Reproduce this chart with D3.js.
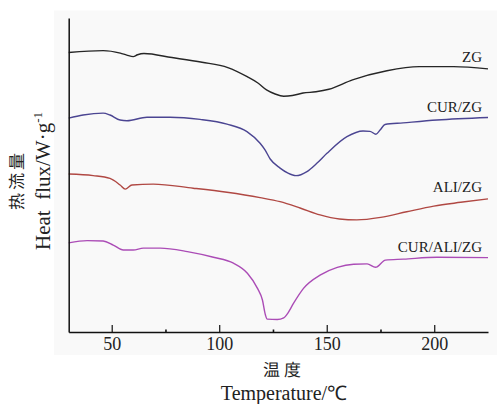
<!DOCTYPE html>
<html>
<head>
<meta charset="utf-8">
<script src="https://cdn.jsdelivr.net/npm/d3@7"></script>
<style>
  html, body { margin: 0; padding: 0; background: #ffffff; }
  svg { display: block; }
  text { font-family: "Liberation Serif", "Times New Roman", serif; fill: #222; }
  .cjk { font-family: "Noto Sans CJK JP", "Noto Sans CJK SC", sans-serif; text-rendering: geometricPrecision; }
</style>
</head>
<body>
<svg id="chart" width="497" height="404"></svg>
<script>
// DSC thermograms (heat flux, arbitrary offset units) vs temperature in °C
const seriesNames = ["ZG", "CUR/ZG", "ALI/ZG", "CUR/ALI/ZG"];
const seriesColors = ["#262626", "#4b4592", "#b04843", "#ab4cb6"];

const tempZG = [30, 46, 54, 57, 60, 62, 65, 78, 92, 104, 113, 118, 122, 126, 130, 134, 139, 145, 151, 162, 178, 193, 209, 225];
const fluxZG = [89.0, 89.6, 88.8, 88.2, 87.7, 88.3, 88.7, 87.4, 85.9, 84.2, 81.3, 79.3, 77.1, 75.8, 75.1, 75.3, 76.1, 76.5, 77.3, 80.3, 83.2, 84.5, 84.5, 83.8];

const tempCURZG = [30, 36.7, 46, 49.2, 53.9, 57.1, 66.4, 77.1, 91.1, 103.6, 112.9, 119, 121.3, 123.7, 128.3, 132, 135.7, 140.8, 145.5, 150.1, 159.4, 166.9, 170.1, 172.9, 174.8, 177.1, 185.5, 201.3, 225];
const fluxCURZG = [68.1, 69.1, 69.7, 69.1, 67.5, 67.3, 68.4, 68.4, 67.7, 66.2, 63.8, 60.1, 58.0, 55.1, 52.2, 50.6, 49.8, 51.1, 53.8, 56.9, 62.2, 64.0, 63.9, 63.0, 64.3, 66.1, 66.6, 67.5, 68.3];

const tempALIZG = [30, 41.4, 49.2, 53.9, 56.3, 59.4, 69.3, 87.9, 103.6, 119, 128.3, 137.6, 146.9, 155.9, 164, 175.1, 187.2, 199.8, 212.3, 225];
const fluxALIZG = [50.3, 49.8, 48.9, 46.8, 45.5, 46.8, 47.1, 45.8, 44.5, 42.8, 41.5, 39.5, 37.3, 36.0, 35.7, 36.5, 38.3, 40.1, 41.3, 42.4];

const tempCURALIZG = [30, 38.6, 46, 50.7, 55.4, 60, 64.7, 72.6, 85.2, 97.3, 106.6, 113.1, 117.8, 120.1, 121.5, 122.3, 127, 130, 131.6, 134.6, 139.2, 147.1, 154.9, 162.5, 168.8, 172.7, 177.3, 185.7, 201.3, 225];
const fluxCURALIZG = [28.4, 29.1, 29.0, 27.7, 26.1, 26.1, 26.7, 26.7, 25.6, 23.8, 21.9, 18.7, 13.9, 10.2, 5.4, 4.1, 4.0, 4.5, 5.7, 9.2, 13.9, 18.2, 20.6, 21.6, 21.7, 20.6, 22.9, 23.2, 23.8, 23.7];

const xTicks = [50, 100, 150, 200];
const xMinorTicks = [75, 125, 175];
const labelFlux = [86.0, 70.1, 44.6, 25.5];   // label baselines, in flux units

const temps = [tempZG, tempCURZG, tempALIZG, tempCURALIZG];
const fluxes = [fluxZG, fluxCURZG, fluxALIZG, fluxCURALIZG];

const svg = d3.select("#chart");

const x = d3.scaleLinear().domain([30, 225]).range([68.7, 488]);
const y = d3.scaleLinear().domain([0, 100]).range([332, 18]);

// light plotting panel
svg.append("rect")
  .attr("x", 54).attr("y", 10.5)
  .attr("width", 443).attr("height", 344.5)
  .attr("fill", "#f9f9f9");

// curves
const line = d3.line()
  .x(d => x(d[0]))
  .y(d => y(d[1]))
  .curve(d3.curveMonotoneX);

seriesNames.forEach((name, i) => {
  const pts = temps[i].map((t, j) => [t, fluxes[i][j]]);
  svg.append("path")
    .datum(pts)
    .attr("fill", "none")
    .attr("stroke", seriesColors[i])
    .attr("stroke-width", 1.4)
    .attr("stroke-linejoin", "round")
    .attr("d", line);

  svg.append("text")
    .attr("x", 482)
    .attr("y", y(labelFlux[i]))
    .attr("text-anchor", "end")
    .attr("font-size", 15)
    .text(name);
});

// bottom axis, ticks pointing inward
const xAxis = d3.axisBottom(x)
  .tickValues(xTicks)
  .tickSizeInner(-7)
  .tickSizeOuter(0)
  .tickPadding(5)
  .tickFormat(d3.format("d"));

const gx = svg.append("g")
  .attr("transform", `translate(0,${y(0)})`)
  .call(xAxis);
gx.select(".domain").attr("stroke", "#111").attr("stroke-width", 1.3);
gx.selectAll(".tick line").attr("stroke", "#111").attr("stroke-width", 1.2);
gx.selectAll(".tick text")
  .attr("font-family", "Liberation Serif, serif")
  .attr("font-size", 18)
  .attr("fill", "#222");

const gxMinor = svg.append("g")
  .attr("transform", `translate(0,${y(0)})`)
  .call(d3.axisBottom(x).tickValues(xMinorTicks).tickSizeInner(-2.5).tickSizeOuter(0).tickFormat(""));
gxMinor.select(".domain").remove();
gxMinor.selectAll(".tick line").attr("stroke", "#111").attr("stroke-width", 1.6);

// left axis: plain line
const gy = svg.append("g")
  .attr("transform", `translate(${x(30)},0)`)
  .call(d3.axisLeft(y).tickValues([]).tickSizeOuter(0));
gy.select(".domain").attr("stroke", "#111").attr("stroke-width", 1.5);

// axis titles
svg.append("text")
  .attr("class", "cjk")
  .attr("x", 284).attr("y", 376)
  .attr("text-anchor", "middle")
  .attr("font-size", 17)
  .attr("letter-spacing", 4)
  .text("温度");

svg.append("text")
  .attr("x", 284).attr("y", 400)
  .attr("text-anchor", "middle")
  .attr("font-size", 20)
  .text("Temperature/℃");

svg.append("text")
  .attr("class", "cjk")
  .attr("transform", "translate(23,180) rotate(-90)")
  .attr("text-anchor", "middle")
  .attr("font-size", 17)
  .attr("letter-spacing", 3)
  .attr("fill", "#222")
  .text("热流量");

const yTitle = svg.append("text")
  .attr("transform", "translate(50,181) rotate(-90)")
  .attr("text-anchor", "middle")
  .attr("font-size", 21);
yTitle.append("tspan").text("Heat\u2002flux/W\u00b7g");
yTitle.append("tspan").attr("font-size", 13).attr("dy", -8).text("-1");
</script>
</body>
</html>
